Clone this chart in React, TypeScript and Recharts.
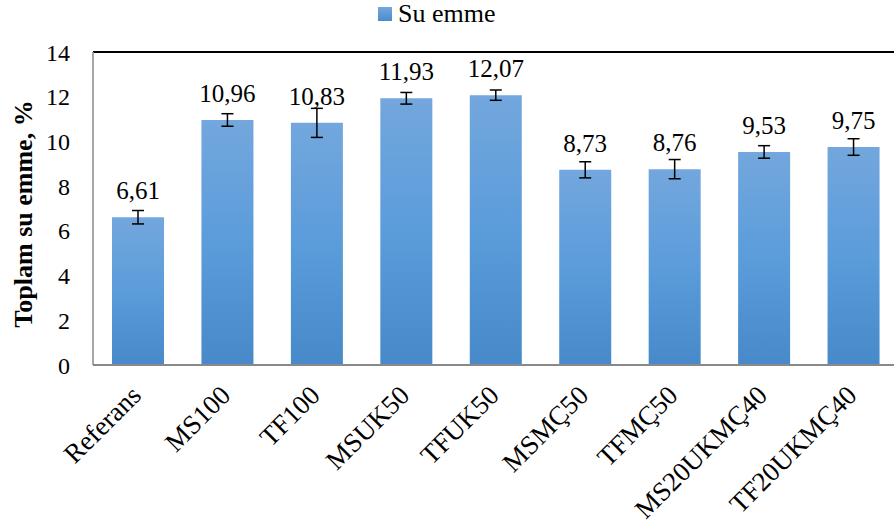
import React from "react";
import {
  BarChart,
  Bar,
  XAxis,
  YAxis,
  ErrorBar,
  LabelList,
  Legend,
  ReferenceLine,
} from "recharts";

// Sample names along the x axis
const categories = [
  "Referans",
  "MS100",
  "TF100",
  "MSUK50",
  "TFUK50",
  "MSMÇ50",
  "TFMÇ50",
  "MS20UKMÇ40",
  "TF20UKMÇ40",
];

// Total water absorption (%) and its error (+/-)
const absorption = [6.61, 10.96, 10.83, 11.93, 12.07, 8.73, 8.76, 9.53, 9.75];
const errors = [0.3, 0.28, 0.65, 0.26, 0.23, 0.36, 0.43, 0.28, 0.37];

const yTicks = [0, 2, 4, 6, 8, 10, 12, 14];

const FONT = "'Liberation Serif', 'Times New Roman', serif";

const data = categories.map((name, i) => ({
  name,
  value: absorption[i],
  err: errors[i],
}));

const fmt = (v: number) => v.toFixed(2).replace(".", ",");

// Rotated category label
const XTick = (props: any) => {
  const { x, y, payload } = props;
  return (
    <g transform={`translate(${x + 5},${y + 32})`}>
      <text
        textAnchor="end"
        transform="rotate(-45)"
        fontFamily={FONT}
        fontSize={27}
        fill="#000"
      >
        {payload.value}
      </text>
    </g>
  );
};

// Value above each bar
const ValueLabel = (props: any) => {
  const { x, y, width, value } = props;
  return (
    <text
      x={x + width / 2}
      y={y - 18}
      textAnchor="middle"
      fontFamily={FONT}
      fontSize={25}
      fill="#000"
    >
      {fmt(value)}
    </text>
  );
};

const LegendBox = () => (
  <div
    style={{
      display: "flex",
      alignItems: "center",
      fontFamily: FONT,
      fontSize: 26,
      color: "#000",
      lineHeight: "28px",
    }}
  >
    <span
      style={{
        display: "inline-block",
        width: 14,
        height: 14,
        marginRight: 6,
        background: "linear-gradient(#74a8de, #4a8bcb)",
      }}
    />
    Su emme
  </div>
);

export default function App() {
  return (
    <div
      style={{
        position: "absolute",
        left: 0,
        top: 0,
        width: 894,
        height: 524,
        overflow: "hidden",
        background: "#fff",
      }}
    >
      <BarChart
        width={900}
        height={524}
        data={data}
        margin={{ top: 52, right: 2, left: 0, bottom: 0 }}
      >
        <defs>
          <linearGradient id="barFill" x1="0" y1="0" x2="0" y2="1">
            <stop offset="0%" stopColor="#73a7dd" />
            <stop offset="50%" stopColor="#5b9cdb" />
            <stop offset="100%" stopColor="#4789c9" />
          </linearGradient>
        </defs>
        <XAxis
          dataKey="name"
          height={159}
          interval={0}
          tickSize={0}
          tickMargin={0}
          tick={<XTick />}
          axisLine={{ stroke: "#898989", strokeWidth: 2 }}
          tickLine={false}
        />
        <YAxis
          width={93}
          domain={[0, 14]}
          ticks={yTicks}
          tickSize={0}
          tickMargin={23}
          tickLine={false}
          axisLine={{ stroke: "#898989", strokeWidth: 1.5 }}
          tick={{ fontFamily: FONT, fontSize: 24, fill: "#000" }}
          label={{
            content: () => (
              <text
                transform="translate(32,214) rotate(-90)"
                textAnchor="middle"
                fontFamily={FONT}
                fontWeight="bold"
                fontSize={26}
                fill="#000"
              >
                Toplam su emme, %
              </text>
            ),
          }}
        />
        <ReferenceLine y={14} stroke="#000" strokeWidth={2} />
        <Legend
          verticalAlign="middle"
          align="center"
          layout="horizontal"
          content={<LegendBox />}
          wrapperStyle={{ top: 0, left: 378, width: 200, height: 30 }}
        />
        <Bar
          dataKey="value"
          name="Su emme"
          fill="url(#barFill)"
          barSize={52}
          isAnimationActive={false}
        >
          <ErrorBar
            dataKey="err"
            width={6}
            stroke="#000"
            strokeWidth={1.5}
            isAnimationActive={false}
          />
          <LabelList dataKey="value" content={<ValueLabel />} />
        </Bar>
      </BarChart>
    </div>
  );
}
